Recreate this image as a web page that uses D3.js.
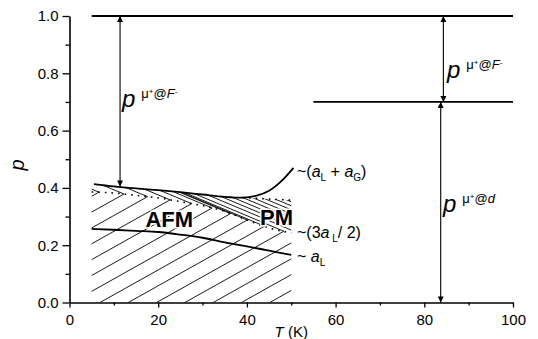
<!DOCTYPE html>
<html>
<head>
<meta charset="utf-8">
<script src="https://cdn.jsdelivr.net/npm/d3@7"></script>
<style>
html,body{margin:0;padding:0;background:#fff;}
svg{display:block;}
</style>
</head>
<body>
<svg id="chart" width="538" height="339"></svg>
<script>
// ---------- data ----------
const xTicks = [0, 20, 40, 60, 80, 100];
const xMinorTicks = [10, 30, 50, 70, 90];
const yTicks = [0.0, 0.2, 0.4, 0.6, 0.8, 1.0];
const yMinorTicks = [0.1, 0.3, 0.5, 0.7, 0.9];

// ~(aL + aG) upper boundary
const T_upper = [5.5, 10, 15, 20, 25, 30, 35, 39, 42, 45, 48, 50.5];
const p_upper = [0.413, 0.405, 0.398, 0.392, 0.385, 0.377, 0.369, 0.366, 0.372, 0.39, 0.427, 0.47];
// ~(3aL/2) dotted boundary
const T_mid = [5, 10, 15, 20, 25, 30, 35, 40, 45, 50];
const p_mid = [0.386, 0.382, 0.374, 0.365, 0.352, 0.338, 0.318, 0.288, 0.260, 0.243];
// ~aL lower boundary
const T_low = [5, 10, 15, 20, 25, 30, 35, 40, 45, 50];
const p_low = [0.257, 0.254, 0.250, 0.246, 0.237, 0.226, 0.210, 0.196, 0.181, 0.166];
// top edge of the hatched (ordered) region
const T_top = [5, 10, 15, 20, 25, 30, 35, 39, 44, 50];
const p_top = [0.413, 0.405, 0.398, 0.392, 0.385, 0.377, 0.369, 0.366, 0.362, 0.357];

// reference levels and arrows
const levelTop = {T0: 5, T1: 100, p: 1.0};
const levelMid = {T0: 55, T1: 100, p: 0.7};
const arrowLeft = {T: 11.4, p0: 1.0, p1: 0.405};
const arrowRightTop = {T: 84.3, p0: 1.0, p1: 0.7};
const arrowRightBot = {T: 83.7, p0: 0.7, p1: 0.0};

// ---------- layout ----------
const font = "'Liberation Sans', Arial, Helvetica, sans-serif";
const svg = d3.select("#chart");
const x = d3.scaleLinear().domain([0, 100]).range([69.5, 513]);
const y = d3.scaleLinear().domain([0, 1]).range([302.5, 16]);

const zip = (a, b) => a.map((v, i) => [v, b[i]]);
const line = d3.line().x(d => x(d[0])).y(d => y(d[1])).curve(d3.curveMonotoneX);

const defs = svg.append("defs");
defs.append("marker")
  .attr("id", "ah").attr("markerUnits", "userSpaceOnUse")
  .attr("viewBox", "0 0 10 10").attr("refX", 10).attr("refY", 5)
  .attr("markerWidth", 7).attr("markerHeight", 6)
  .attr("orient", "auto-start-reverse")
  .append("path").attr("d", "M0,0 L10,5 L0,10 Z").attr("fill", "#000");

// clip for hatched region (below top edge, T 5..50)
const topPts = zip(T_top, p_top);
const clipD = line(topPts) + `L${x(50)},${y(0)}L${x(5)},${y(0)}Z`;
defs.append("clipPath").attr("id", "hatchClip").append("path").attr("d", clipD);

// linear interpolation of mid curve in pixel space
const midPx = zip(T_mid, p_mid).map(d => [x(d[0]), y(d[1])]);
function midY(px) {
  let i = 0;
  if (px <= midPx[0][0]) i = 0;
  else if (px >= midPx[midPx.length - 1][0]) i = midPx.length - 2;
  else { while (midPx[i + 1][0] < px) i++; }
  const a = midPx[i], b = midPx[i + 1];
  return a[1] + (b[1] - a[1]) * (px - a[0]) / (b[0] - a[0]);
}

const sUp = 0.56, sDown = 0.42, spacing = 28.3, x0b = 100;
const hatch = svg.append("g").attr("clip-path", "url(#hatchClip)")
  .attr("stroke", "#000").attr("stroke-width", 0.9).attr("fill", "none");
for (let k = -16; k <= 12; k++) {
  const xb = x0b + spacing * k;
  const yb = y(0);
  // find apex where rising line meets the mid curve
  let apex = null;
  for (let px = xb; px < xb + 600; px += 0.25) {
    const ly = yb - sUp * (px - xb);
    if (ly <= midY(px)) { apex = [px, ly]; break; }
  }
  if (!apex) continue;
  const far = 400;
  const dStr = `M${apex[0] - far},${apex[1] + sUp * far}L${apex[0]},${apex[1]}L${apex[0] - far},${apex[1] - sDown * far}`;
  hatch.append("path").attr("d", dStr);
}

// ---------- curves ----------
svg.append("path").attr("d", line(zip(T_upper, p_upper)))
  .attr("fill", "none").attr("stroke", "#000").attr("stroke-width", 1.8);
svg.append("path").attr("d", line(zip(T_mid, p_mid)))
  .attr("fill", "none").attr("stroke", "#000").attr("stroke-width", 1.6)
  .attr("stroke-dasharray", "1.6,5");
svg.append("path").attr("d", line(topPts.filter(d => d[0] >= 39)))
  .attr("fill", "none").attr("stroke", "#000").attr("stroke-width", 1.6)
  .attr("stroke-dasharray", "1.6,5");
svg.append("path").attr("d", line(zip(T_low, p_low)))
  .attr("fill", "none").attr("stroke", "#000").attr("stroke-width", 1.8);

// ---------- reference levels ----------
[levelTop, levelMid].forEach(l => {
  svg.append("line").attr("x1", x(l.T0)).attr("x2", x(l.T1))
    .attr("y1", y(l.p)).attr("y2", y(l.p))
    .attr("stroke", "#000").attr("stroke-width", 1.8);
});
[arrowLeft, arrowRightTop, arrowRightBot].forEach(a => {
  svg.append("line").attr("x1", x(a.T)).attr("x2", x(a.T))
    .attr("y1", y(a.p0)).attr("y2", y(a.p1))
    .attr("stroke", "#000").attr("stroke-width", 1.1)
    .attr("marker-start", "url(#ah)").attr("marker-end", "url(#ah)");
});

// ---------- axes ----------
const gx = svg.append("g").attr("transform", `translate(0,${y(0)})`)
  .call(d3.axisBottom(x).tickValues(xTicks).tickSize(5).tickPadding(7).tickSizeOuter(0));
svg.append("g").attr("transform", `translate(0,${y(0)})`)
  .call(d3.axisBottom(x).tickValues(xMinorTicks).tickSize(3).tickFormat("").tickSizeOuter(0))
  .select(".domain").remove();
const gy = svg.append("g").attr("transform", `translate(${x(0)},0)`)
  .call(d3.axisLeft(y).tickValues(yTicks).tickSize(7).tickPadding(4)
    .tickFormat(d3.format(".1f")).tickSizeOuter(0));
svg.append("g").attr("transform", `translate(${x(0)},0)`)
  .call(d3.axisLeft(y).tickValues(yMinorTicks).tickSize(4).tickFormat("").tickSizeOuter(0))
  .select(".domain").remove();
svg.selectAll(".domain").attr("stroke-width", 1.6);
svg.selectAll(".tick line").attr("stroke-width", 1.3);
svg.selectAll(".tick text").attr("font-family", font).attr("font-size", 15).attr("fill", "#000");

// axis titles
svg.append("text").attr("transform", "translate(24,165) rotate(-90)")
  .attr("text-anchor", "middle").attr("font-family", font).attr("font-size", 20)
  .attr("font-style", "italic").text("p");
const xt = svg.append("text").attr("x", x(50)).attr("y", 337).attr("text-anchor", "middle")
  .attr("font-family", font).attr("font-size", 15);
xt.append("tspan").attr("font-style", "italic").text("T");
xt.append("tspan").text(" (K)");

// ---------- region labels ----------
function regionLabel(T, p, txt) {
  svg.append("text").attr("x", x(T)).attr("y", y(p)).attr("text-anchor", "middle")
    .attr("font-family", font).attr("font-size", 22).attr("font-weight", "bold")
    .attr("stroke", "#fff").attr("stroke-width", 3).attr("paint-order", "stroke")
    .attr("fill", "#000").text(txt);
}
regionLabel(22.5, 0.263, "AFM");
regionLabel(46.7, 0.27, "PM");

// ---------- p^{...} labels ----------
function pLabel(px, py, sup) {
  const t = svg.append("text").attr("x", px).attr("y", py).attr("font-family", font);
  t.append("tspan").attr("font-size", 24).attr("font-style", "italic").text("p");
  t.append("tspan").attr("font-size", 13).attr("dx", 6).attr("dy", -9).text("μ");
  t.append("tspan").attr("font-size", 8).attr("dy", -4).text("+");
  t.append("tspan").attr("font-size", 13).attr("dy", 4).text("@");
  t.append("tspan").attr("font-size", 13).attr("font-style", "italic").text(sup[0]);
  if (sup[1]) t.append("tspan").attr("font-size", 8).attr("dy", -4).text(sup[1]);
}
pLabel(122, 107, ["F", "-"]);
pLabel(447, 78, ["F", "-"]);
pLabel(443, 212, ["d", ""]);

// ---------- curve labels ----------
function curveLabel(px, py, parts) {
  const t = svg.append("text").attr("x", px).attr("y", py)
    .attr("font-family", font).attr("font-size", 16);
  let shift = 0;
  parts.forEach(p => {
    const s = t.append("tspan").text(p.t);
    if (p.i) s.attr("font-style", "italic");
    if (p.sub) { s.attr("font-size", 10).attr("dy", 4 - shift); shift = 4; }
    else { s.attr("dy", -shift); shift = 0; }
  });
}
curveLabel(297, 177, [{t: "~("}, {t: "a", i: 1}, {t: "L", sub: 1}, {t: " + "}, {t: "a", i: 1}, {t: "G", sub: 1}, {t: ")"}]);
curveLabel(297, 238, [{t: "~(3"}, {t: "a", i: 1}, {t: " L", sub: 1}, {t: "/ 2)"}]);
curveLabel(297, 262, [{t: "~ "}, {t: "a", i: 1}, {t: "L", sub: 1}]);
</script>
</body>
</html>
